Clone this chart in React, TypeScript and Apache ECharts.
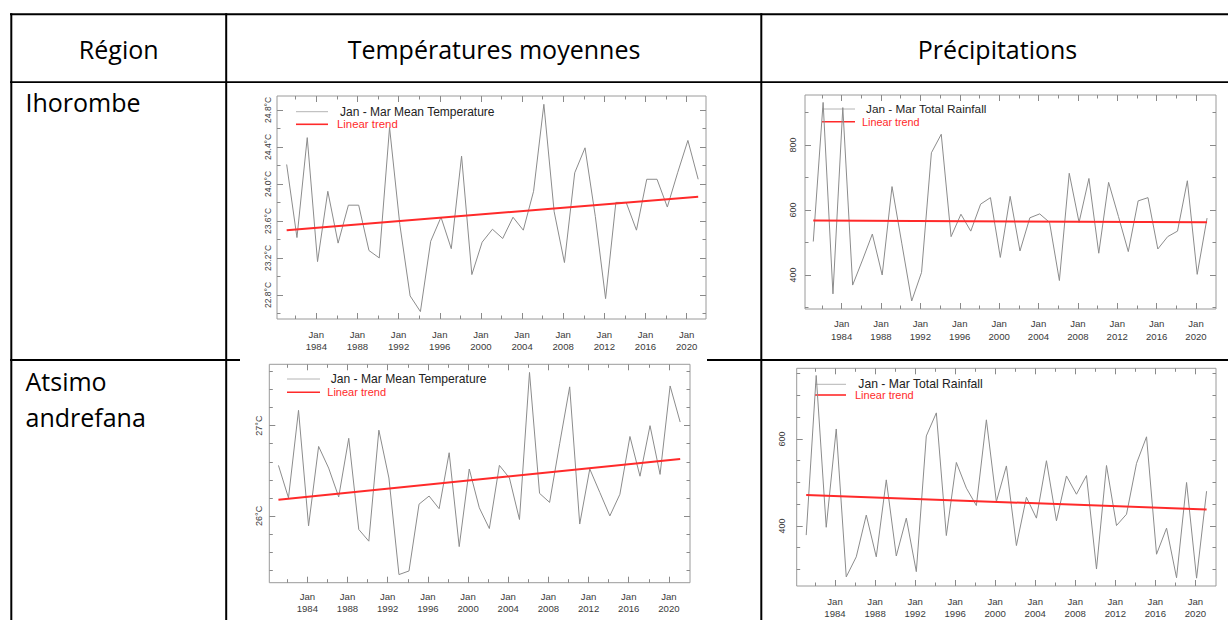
import React, { useEffect, useRef } from "react";
import * as echarts from "echarts";

// ---------- data ----------
const years = [
  1981, 1982, 1983, 1984, 1985, 1986, 1987, 1988, 1989, 1990,
  1991, 1992, 1993, 1994, 1995, 1996, 1997, 1998, 1999, 2000,
  2001, 2002, 2003, 2004, 2005, 2006, 2007, 2008, 2009, 2010,
  2011, 2012, 2013, 2014, 2015, 2016, 2017, 2018, 2019, 2020,
  2021,
];

const ihorombeTemp = [
  24.21, 23.42, 24.5, 23.16, 23.92, 23.36, 23.77, 23.77, 23.28, 23.2,
  24.61, 23.56, 22.79, 22.62, 23.38, 23.64, 23.3, 24.3, 23.02, 23.37,
  23.51, 23.41, 23.64, 23.5, 23.92, 24.86, 23.7, 23.15, 24.12, 24.39,
  23.65, 22.76, 23.8, 23.8, 23.5, 24.05, 24.05, 23.75, 24.12, 24.47,
  24.05,
];
const ihorombeTempTrend = [23.5, 23.86];

const ihorombeRain = [
  503, 931, 342, 915, 369, 446, 526, 400, 672, 496,
  320, 408, 776, 833, 518, 587, 535, 618, 638, 454,
  642, 474, 576, 588, 562, 383, 713, 562, 697, 467,
  685, 580, 472, 628, 638, 480, 518, 535, 690, 402,
  575,
];
const ihorombeRainTrend = [568, 562];

const atsimoTemp = [
  26.56, 26.2, 27.17, 25.89, 26.77, 26.53, 26.21, 26.86, 25.85, 25.72,
  26.95, 26.42, 25.35, 25.39, 26.13, 26.22, 26.08, 26.7, 25.66, 26.52,
  26.09, 25.86, 26.56, 26.42, 25.96, 27.59, 26.25, 26.15, 26.8, 27.43,
  25.91, 26.52, 26.26, 26.0, 26.24, 26.88, 26.44, 27.0, 26.46, 27.44,
  27.04,
];
const atsimoTempTrend = [26.18, 26.63];

const atsimoRain = [
  379, 746, 397, 623, 283, 329, 425, 329, 506, 331,
  418, 295, 607, 660, 378, 546, 487, 447, 644, 456,
  538, 355, 466, 418, 550, 412, 515, 473, 516, 301,
  539, 401, 427, 544, 605, 335, 395, 281, 500, 280,
  480,
];
const atsimoRainTrend = [471, 438];

const xLabelYears = [1984, 1988, 1992, 1996, 2000, 2004, 2008, 2012, 2016, 2020];
const xMinorYears = [1982, 1986, 1990, 1994, 1998, 2002, 2006, 2010, 2014, 2018];

const tempLabels1 = [22.8, 23.2, 23.6, 24.0, 24.4, 24.8];
const tempMinor1 = [22.6, 23.0, 23.4, 23.8, 24.2, 24.6];
const rainLabels1 = [400, 600, 800];
const rainMinor1 = [300, 500, 700, 900];
const tempLabels2 = [26, 27];
const tempMinor2 = [25.4, 25.6, 25.8, 26.2, 26.4, 26.6, 26.8, 27.2, 27.4, 27.6];
const rainLabels2 = [400, 600];
const rainMinor2 = [300, 350, 450, 500, 550, 650, 700, 750];

const tempLegend = "Jan - Mar Mean Temperature";
const rainLegend = "Jan - Mar Total Rainfall";
const trendLegend = "Linear trend";

const headers = ["Région", "Températures moyennes", "Précipitations"];
const regionNames = ["Ihorombe", "Atsimo", "andrefana"];

// ---------- layout / style ----------
const chartFont = "'Liberation Sans', Arial, Helvetica, sans-serif";
const tableFont = "'Open Sans', 'Noto Sans', sans-serif";
const tickColor = "#8a8a8a";
const labelColor = "#3a3a3a";

const panels = [
  {
    values: ihorombeTemp, trend: ihorombeTempTrend, name: tempLegend,
    yLabels: tempLabels1, yMinor: tempMinor1, fmt: (v: number) => v.toFixed(1) + "°C",
    grid: { left: 277, top: 96, width: 429, height: 223 },
    xMin: 1980.18, xMax: 2021.88, yMin: 22.54, yMax: 24.95,
    yFont: 8.5, yMargin: 5, xMargin: 9,
    lg: { lx: 296, lw: 32, y1: 111.7, y2: 124.3, tx1: 340, tx2: 337, fs1: 12, fs2: 11.4 },
  },
  {
    values: ihorombeRain, trend: ihorombeRainTrend, name: rainLegend,
    yLabels: rainLabels1, yMinor: rainMinor1, fmt: (v: number) => String(Math.round(v)),
    grid: { left: 805, top: 95, width: 411, height: 214 },
    xMin: 1980.28, xMax: 2022.03, yMin: 295.4, yMax: 953.8,
    yFont: 9, yMargin: 8, xMargin: 8.5,
    lg: { lx: 822, lw: 33, y1: 109, y2: 121.7, tx1: 866, tx2: 862, fs1: 11.8, fs2: 10.8 },
  },
  {
    values: atsimoTemp, trend: atsimoTempTrend, name: tempLegend,
    yLabels: tempLabels2, yMinor: tempMinor2, fmt: (v: number) => Math.round(v) + "°C",
    grid: { left: 269.3, top: 364.3, width: 420.7, height: 218.4 },
    xMin: 1980.21, xMax: 2022.1, yMin: 25.26, yMax: 27.68,
    yFont: 9, yMargin: 6, xMargin: 7.5,
    lg: { lx: 287, lw: 33, y1: 379, y2: 392.3, tx1: 330.7, tx2: 327.3, fs1: 12.1, fs2: 11 },
  },
  {
    values: atsimoRain, trend: atsimoRainTrend, name: rainLegend,
    yLabels: rainLabels2, yMinor: rainMinor2, fmt: (v: number) => String(Math.round(v)),
    grid: { left: 796.7, top: 368.3, width: 419.3, height: 217.7 },
    xMin: 1980.17, xMax: 2022.06, yMin: 262, yMax: 762.5,
    yFont: 9, yMargin: 10, xMargin: 9,
    lg: { lx: 815, lw: 31, y1: 384.3, y2: 395, tx1: 858.3, tx2: 855, fs1: 12.2, fs2: 11 },
  },
];

function buildOption() {
  const grid: any[] = [];
  const xAxis: any[] = [];
  const yAxis: any[] = [];
  const series: any[] = [];
  const graphic: any[] = [];

  panels.forEach((p, i) => {
    grid.push({
      ...p.grid,
      show: true,
      borderColor: "#9a9a9a",
      borderWidth: 1,
      backgroundColor: "transparent",
      containLabel: false,
    });

    const mkX = (position: string, ticks: number[], len: number, labels: boolean) => ({
      type: "value",
      gridIndex: i,
      min: p.xMin,
      max: p.xMax,
      position,
      axisLine: { show: false, onZero: false },
      splitLine: { show: false },
      axisTick: {
        show: true, inside: true, length: len, customValues: ticks,
        lineStyle: { color: tickColor, width: 1 },
      },
      axisLabel: labels
        ? {
            show: true, customValues: xLabelYears,
            formatter: (v: number) => "Jan\n" + Math.round(v),
            margin: p.xMargin, fontSize: 9.6, lineHeight: 12.5,
            color: labelColor, fontFamily: chartFont,
          }
        : { show: false },
    });
    xAxis.push(
      mkX("bottom", xLabelYears, 6, true),
      mkX("bottom", xMinorYears, 3.5, false),
      mkX("top", xLabelYears, 6, false),
      mkX("top", xMinorYears, 3.5, false)
    );

    const mkY = (position: string, ticks: number[], len: number, labels: boolean) => ({
      type: "value",
      gridIndex: i,
      min: p.yMin,
      max: p.yMax,
      position,
      axisLine: { show: false, onZero: false },
      splitLine: { show: false },
      axisTick: {
        show: true, inside: true, length: len, customValues: ticks,
        lineStyle: { color: tickColor, width: 1 },
      },
      axisLabel: labels
        ? {
            show: true, customValues: p.yLabels, formatter: p.fmt, rotate: 90,
            margin: p.yMargin, fontSize: p.yFont, color: labelColor, fontFamily: chartFont,
          }
        : { show: false },
    });
    yAxis.push(
      mkY("left", p.yLabels, 6, true),
      mkY("left", p.yMinor, 3.5, false),
      mkY("right", p.yLabels, 6, false),
      mkY("right", p.yMinor, 3.5, false)
    );

    series.push({
      type: "line",
      name: p.name,
      xAxisIndex: i * 4,
      yAxisIndex: i * 4,
      data: years.map((y, k) => [y + 0.12, p.values[k]]),
      symbol: "none",
      showSymbol: false,
      lineStyle: { color: "#8c8c8c", width: 1 },
      z: 2,
    });
    series.push({
      type: "line",
      name: trendLegend,
      xAxisIndex: i * 4,
      yAxisIndex: i * 4,
      data: [
        [years[0] + 0.12, p.trend[0]],
        [years[years.length - 1] + 0.12, p.trend[1]],
      ],
      symbol: "none",
      showSymbol: false,
      lineStyle: { color: "#ff2a2a", width: 2 },
      z: 3,
    });

    const L = p.lg;
    graphic.push(
      { type: "line", shape: { x1: L.lx, y1: L.y1, x2: L.lx + L.lw, y2: L.y1 }, style: { stroke: "#b4b4b4", lineWidth: 1 } },
      { type: "text", x: L.tx1, y: L.y1, style: { text: p.name, fontSize: L.fs1, fontFamily: chartFont, fill: "#222", verticalAlign: "middle", align: "left" } },
      { type: "line", shape: { x1: L.lx, y1: L.y2, x2: L.lx + L.lw, y2: L.y2 }, style: { stroke: "#ff2a2a", lineWidth: 1.6 } },
      { type: "text", x: L.tx2, y: L.y2, style: { text: trendLegend, fontSize: L.fs2, fontFamily: chartFont, fill: "#ff2a2a", verticalAlign: "middle", align: "left" } }
    );
  });

  // table borders
  const tl = (x1: number, y1: number, x2: number, y2: number, w: number) => ({
    type: "line",
    shape: { x1, y1, x2, y2 },
    style: { stroke: "#000", lineWidth: w },
  });
  graphic.push(
    tl(10, 14.3, 1228, 14.3, 2),
    tl(11.3, 13.3, 11.3, 620, 2),
    tl(10, 82.2, 1228, 82.2, 1.8),
    tl(226.2, 13.3, 226.2, 620, 2),
    tl(761.3, 13.3, 761.3, 620, 2),
    tl(10, 360, 240, 360, 2),
    tl(707, 360, 1228, 360, 2)
  );

  // header + region texts
  const headerX = [118.7, 494, 997.5];
  headers.forEach((h, k) => {
    graphic.push({
      type: "text",
      x: headerX[k],
      y: 48.5,
      style: { text: h, fontSize: 25, fontFamily: tableFont, fill: "#000", align: "center", verticalAlign: "middle" },
    });
  });
  const regionY = [102, 381.3, 417];
  regionNames.forEach((r, k) => {
    graphic.push({
      type: "text",
      x: 25.5,
      y: regionY[k],
      style: { text: r, fontSize: 25, fontFamily: tableFont, fill: "#000", align: "left", verticalAlign: "middle" },
    });
  });

  return {
    animation: false,
    backgroundColor: "#ffffff",
    grid,
    xAxis,
    yAxis,
    series,
    graphic,
  };
}

export default function App() {
  const ref = useRef<HTMLDivElement>(null);
  useEffect(() => {
    if (!ref.current) return;
    const chart = echarts.init(ref.current, undefined, { renderer: "svg" });
    chart.setOption(buildOption() as any);
    return () => chart.dispose();
  }, []);
  return (
    <div
      ref={ref}
      style={{ position: "absolute", left: 0, top: 0, width: 1228, height: 620 }}
    />
  );
}
